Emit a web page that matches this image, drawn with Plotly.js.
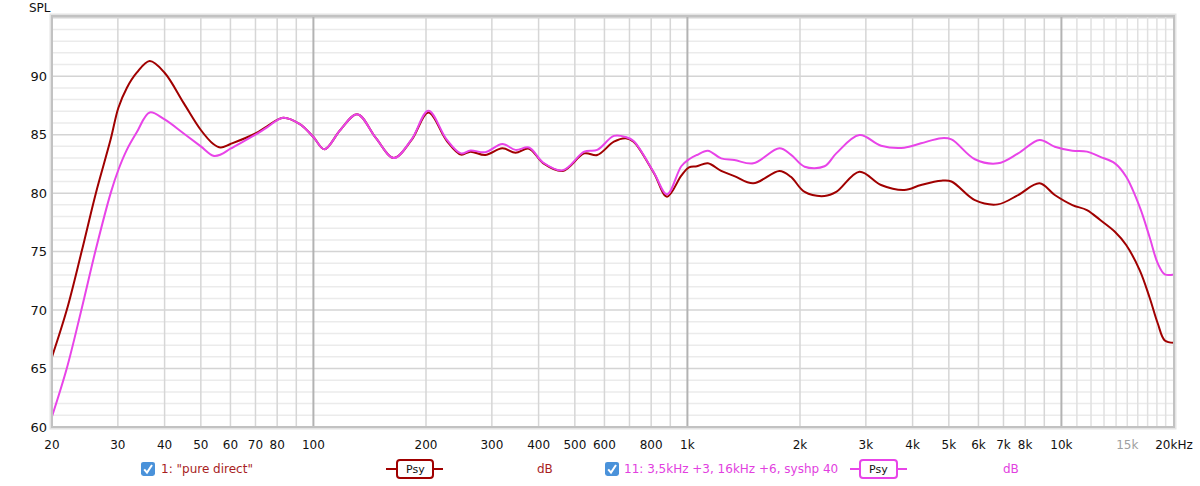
<!DOCTYPE html>
<html>
<head>
<meta charset="utf-8">
<script src="https://cdn.plot.ly/plotly-3.0.1.min.js"></script>
<style>
  html, body { margin: 0; padding: 0; background: #fff; }
  #chart { width: 1200px; height: 486px; }
</style>
</head>
<body>
<div id="chart"></div>
<script>
// ---- Data ----
const freqs = [20, 21.9, 24, 26.2, 28.7, 30.1, 31.7, 33.7, 36.5, 40, 45, 50, 54, 56.5, 60, 70, 75, 83, 92, 100, 107, 118, 131, 147, 164, 183, 203, 227, 248, 263, 288, 320, 347, 377, 412, 464, 530, 574, 636, 684, 718, 814, 882, 963, 1010, 1060, 1134, 1231, 1335, 1500, 1762, 1890, 2058, 2326, 2500, 2884, 3294, 3800, 4214, 4772, 5080, 5870, 6760, 7660, 8740, 9600, 10700, 11700, 12700, 13900, 14900, 16200, 17200, 18100, 18900, 20000];

const pureDirect = [66.0, 70.0, 75.0, 80.0, 84.6, 87.3, 89.0, 90.3, 91.3, 90.3, 87.7, 85.4, 84.2, 83.9, 84.2, 85.1, 85.7, 86.45, 85.9, 84.8, 83.75, 85.4, 86.75, 84.7, 83.0, 84.55, 86.9, 84.5, 83.3, 83.55, 83.26, 83.83, 83.46, 83.8, 82.55, 81.9, 83.4, 83.26, 84.4, 84.7, 84.4, 81.7, 79.7, 81.5, 82.2, 82.3, 82.55, 81.9, 81.46, 80.84, 81.9, 81.4, 80.1, 79.75, 80.1, 81.83, 80.7, 80.27, 80.7, 81.06, 81.0, 79.4, 79.04, 79.84, 80.84, 79.84, 78.98, 78.55, 77.7, 76.7, 75.56, 73.4, 71.1, 68.85, 67.4, 67.2];

const syshp40 = [60.9, 65.0, 70.1, 75.2, 80.0, 82.0, 83.7, 85.2, 86.9, 86.3, 85.1, 84.0, 83.2, 83.3, 83.8, 85.0, 85.6, 86.45, 85.9, 84.8, 83.75, 85.4, 86.75, 84.7, 83.0, 84.6, 87.05, 84.6, 83.4, 83.65, 83.5, 84.2, 83.7, 83.9, 82.6, 81.95, 83.55, 83.7, 84.9, 84.8, 84.45, 81.75, 79.9, 82.3, 82.9, 83.26, 83.63, 82.97, 82.83, 82.55, 83.83, 83.3, 82.26, 82.3, 83.4, 84.97, 84.06, 83.89, 84.26, 84.7, 84.6, 82.9, 82.55, 83.4, 84.55, 83.97, 83.63, 83.55, 83.1, 82.55, 81.4, 78.8, 76.27, 73.99, 73.05, 73.05];

const seriesNames = ['1: "pure direct"', '11: 3,5kHz +3, 16kHz +6, syshp 40'];

const xTickVals = [20, 30, 40, 50, 60, 70, 80, 100, 200, 300, 400, 500, 600, 800, 1000, 2000, 3000, 4000, 5000, 6000, 7000, 8000, 10000, 15000, 20000];
const xTickText = ['20', '30', '40', '50', '60', '70', '80', '100', '200', '300', '400', '500', '600', '800', '1k', '2k', '3k', '4k', '5k', '6k', '7k', '8k', '10k', '<span style="color:#a0a0a0">15k</span>', '20kHz'];
const xGridVals = [30, 40, 50, 60, 70, 80, 90, 200, 300, 400, 500, 600, 700, 800, 900, 2000, 3000, 4000, 5000, 6000, 7000, 8000, 9000];
const xFineGridVals = [11000, 12000, 13000, 14000, 15000, 16000, 17000, 18000, 19000];
const xDecadeVals = [100, 1000, 10000];
const yTickVals = [60, 65, 70, 75, 80, 85, 90];
const yMajorGridVals = [65, 70, 75, 80, 85, 90, 95];
const yMinorGridVals = [61, 62, 63, 64, 66, 67, 68, 69, 71, 72, 73, 74, 76, 77, 78, 79, 81, 82, 83, 84, 86, 87, 88, 89, 91, 92, 93, 94];

// ---- Colors / layout helpers ----
const RED = '#a00000';
const PINK = '#e844e8';
const RED_TXT = '#a81e1e';
const PINK_TXT = '#e23fe0';

const L = 52, R = 1174, T = 16, B = 427;
const W = 1200, H = 486;
const px = x => (x - L) / (R - L);
const py = y => (B - y) / (B - T);

function roundRect(x0, y0, x1, y1, r) {
  const P = (x, y) => px(x).toFixed(5) + ',' + py(y).toFixed(5);
  return 'M' + P(x0 + r, y0) + ' L' + P(x1 - r, y0) + ' Q' + P(x1, y0) + ' ' + P(x1, y0 + r) +
    ' L' + P(x1, y1 - r) + ' Q' + P(x1, y1) + ' ' + P(x1 - r, y1) +
    ' L' + P(x0 + r, y1) + ' Q' + P(x0, y1) + ' ' + P(x0, y1 - r) +
    ' L' + P(x0, y0 + r) + ' Q' + P(x0, y0) + ' ' + P(x0 + r, y0) + ' Z';
}
function pathP(points) {
  return points.map((p, i) => (i ? 'L' : 'M') + px(p[0]).toFixed(5) + ',' + py(p[1]).toFixed(5)).join(' ');
}

const traces = [
  { x: freqs, y: pureDirect, name: seriesNames[0], type: 'scatter', mode: 'lines',
    line: { color: RED, width: 2, shape: 'spline', smoothing: 1 }, hoverinfo: 'skip' },
  { x: freqs, y: syshp40, name: seriesNames[1], type: 'scatter', mode: 'lines',
    line: { color: PINK, width: 2, shape: 'spline', smoothing: 1 }, hoverinfo: 'skip' }
];

const shapes = [];
const vline = (f, color, width) => shapes.push({ type: 'line', xref: 'x', yref: 'paper', x0: f, x1: f, y0: 0, y1: 1,
  layer: 'between', line: { color: color, width: width } });
const hline = (v, color, width) => shapes.push({ type: 'line', xref: 'paper', yref: 'y', x0: 0, x1: 1, y0: v, y1: v,
  layer: 'between', line: { color: color, width: width } });
yMinorGridVals.forEach(v => hline(v, '#ebebeb', 1.5));
yMajorGridVals.forEach(v => hline(v, '#d4d4d4', 1.5));
xFineGridVals.forEach(f => vline(f, '#e0e0e0', 1.5));
xGridVals.forEach(f => vline(f, '#d6d6d6', 1.5));
xDecadeVals.forEach(f => vline(f, '#b3b3b3', 2));
// plot frame (shadow + border)
shapes.push({ type: 'rect', xref: 'paper', yref: 'paper', x0: px(L - 1.5), x1: px(R + 1.5), y0: py(B + 1.5), y1: py(T - 1.5),
  layer: 'above', line: { color: '#e4e4e4', width: 2 } });
shapes.push({ type: 'rect', xref: 'paper', yref: 'paper', x0: 0, x1: 1, y0: 0, y1: 1,
  layer: 'above', line: { color: '#c2c2c2', width: 2 } });

// legend widgets
function legendItem(cbx, lineX0, boxX0, boxX1, lineX1, color) {
  const cy = 469;
  shapes.push({ type: 'path', xref: 'paper', yref: 'paper', path: roundRect(cbx, cy - 7, cbx + 14, cy + 7, 2.5),
    fillcolor: '#4a92da', line: { width: 0 }, layer: 'above' });
  shapes.push({ type: 'path', xref: 'paper', yref: 'paper',
    path: pathP([[cbx + 3.2, cy + 0.3], [cbx + 6, cy + 3.6], [cbx + 11, cy - 4]]),
    line: { color: '#ffffff', width: 2 }, layer: 'above' });
  shapes.push({ type: 'line', xref: 'paper', yref: 'paper', x0: px(lineX0), x1: px(boxX0), y0: py(cy), y1: py(cy),
    line: { color: color, width: 2 }, layer: 'above' });
  shapes.push({ type: 'line', xref: 'paper', yref: 'paper', x0: px(boxX1), x1: px(lineX1), y0: py(cy), y1: py(cy),
    line: { color: color, width: 2 }, layer: 'above' });
  shapes.push({ type: 'path', xref: 'paper', yref: 'paper', path: roundRect(boxX0, cy - 9, boxX1, cy + 9, 3),
    fillcolor: '#ffffff', line: { color: color, width: 2 }, layer: 'above' });
}
legendItem(141, 386, 397, 433, 443, RED);
legendItem(605, 850, 860, 897, 907, PINK);

const FONT = 'DejaVu Sans, Verdana, sans-serif';
const annotations = [
  { text: 'SPL', xref: 'paper', yref: 'paper', x: px(27), y: py(8), xanchor: 'left', yanchor: 'middle',
    showarrow: false, font: { family: FONT, size: 12, color: '#111' } },
  { text: seriesNames[0], xref: 'paper', yref: 'paper', x: px(159), y: py(469), xanchor: 'left', yanchor: 'middle',
    showarrow: false, font: { family: FONT, size: 12, color: RED_TXT } },
  { text: 'Psy', xref: 'paper', yref: 'paper', x: px(415), y: py(469), xanchor: 'center', yanchor: 'middle',
    showarrow: false, font: { family: FONT, size: 11, color: '#111' } },
  { text: 'dB', xref: 'paper', yref: 'paper', x: px(545), y: py(469), xanchor: 'center', yanchor: 'middle',
    showarrow: false, font: { family: FONT, size: 12, color: RED_TXT } },
  { text: seriesNames[1], xref: 'paper', yref: 'paper', x: px(622), y: py(469), xanchor: 'left', yanchor: 'middle',
    showarrow: false, font: { family: FONT, size: 12, color: PINK_TXT } },
  { text: 'Psy', xref: 'paper', yref: 'paper', x: px(878.5), y: py(469), xanchor: 'center', yanchor: 'middle',
    showarrow: false, font: { family: FONT, size: 11, color: '#111' } },
  { text: 'dB', xref: 'paper', yref: 'paper', x: px(1011), y: py(469), xanchor: 'center', yanchor: 'middle',
    showarrow: false, font: { family: FONT, size: 12, color: PINK_TXT } }
];

const layout = {
  width: W, height: H,
  margin: { l: L, r: W - R, t: T, b: H - B, pad: 0 },
  paper_bgcolor: '#ffffff', plot_bgcolor: '#ffffff',
  showlegend: false,
  font: { family: FONT, size: 12, color: '#111' },
  xaxis: {
    type: 'log', range: [Math.log10(20), Math.log10(20000)],
    tickmode: 'array', tickvals: xTickVals, ticktext: xTickText,
    showgrid: false, ticks: '', ticklen: 0, zeroline: false, showline: false,
    tickfont: { family: FONT, size: 12, color: '#111' },
    ticklabelstandoff: 9, fixedrange: true
  },
  yaxis: {
    range: [60, 95.15],
    tickmode: 'array', tickvals: yTickVals,
    showgrid: false, ticks: '', ticklen: 0, zeroline: false, showline: false,
    tickfont: { family: FONT, size: 13, color: '#111' },
    ticklabelstandoff: 4, fixedrange: true
  },
  shapes: shapes,
  annotations: annotations
};

Plotly.newPlot('chart', traces, layout, { displayModeBar: false, staticPlot: true });
</script>
</body>
</html>
